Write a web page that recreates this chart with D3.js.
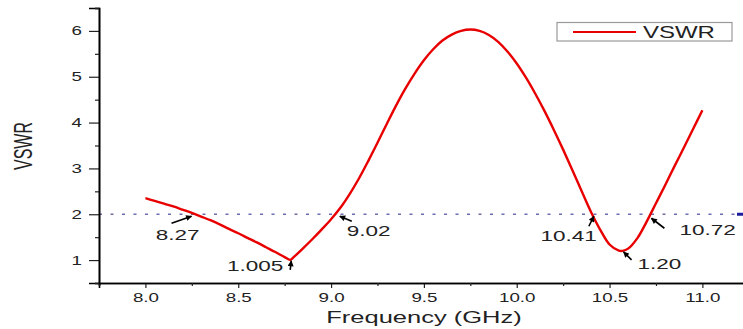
<!DOCTYPE html>
<html>
<head>
<meta charset="utf-8">
<script src="https://cdn.jsdelivr.net/npm/d3@7"></script>
<style>
  body { margin: 0; background: #fff; }
  svg { display: block; font-family: "Liberation Sans", Arial, sans-serif; }
</style>
</head>
<body>
<script>
// measured VSWR curve
var freq = [8.00,8.05,8.10,8.15,8.20,8.25,8.30,8.35,8.40,8.45,8.50,8.55,8.60,8.65,8.70,8.75,8.78,
  8.80,8.85,8.90,8.95,9.00,9.05,9.10,9.15,9.20,9.25,9.30,9.35,9.40,9.45,9.50,9.55,9.60,9.65,9.70,
  9.75,9.80,9.85,9.90,9.95,10.00,10.05,10.10,10.15,10.20,10.25,10.30,10.35,10.40,10.45,10.50,10.55,
  10.57,10.60,10.65,10.70,10.75,10.80,10.85,10.90,10.95,11.00];
var vswr = [2.35,2.29,2.23,2.17,2.10,2.03,1.95,1.87,1.78,1.68,1.585,1.485,1.385,1.28,1.175,1.065,1.005,
  1.07,1.26,1.46,1.67,1.89,2.14,2.44,2.78,3.16,3.56,3.97,4.37,4.74,5.07,5.36,5.60,5.79,5.92,6.00,
  6.03,6.00,5.91,5.76,5.55,5.29,4.98,4.63,4.25,3.84,3.41,2.96,2.50,2.05,1.66,1.34,1.205,
  1.20,1.25,1.48,1.84,2.24,2.64,3.05,3.45,3.86,4.27];

var xTicks = [8.0, 8.5, 9.0, 9.5, 10.0, 10.5, 11.0];
var xMinor = [7.75, 8.25, 8.75, 9.25, 9.75, 10.25, 10.75, 11.25];
var yTicks = [1, 2, 3, 4, 5, 6];
var yMinor = [0.5, 1.5, 2.5, 3.5, 4.5, 5.5, 6.5];
var refLevel = 2;

// annotated points
var markFreq = [8.27, 8.78, 9.02, 10.41, 10.57, 10.72];
var markVswr = [2, 1.005, 2, 2, 1.20, 2];
var markText = ["8.27", "1.005", "9.02", "10.41", "1.20", "10.72"];

var width = 743, height = 329;
var stretch = 1.5;

var svg = d3.select("body").append("svg")
  .attr("width", width)
  .attr("height", height);

var x = d3.scaleLinear().domain([7.75, 11.25]).range([99, 748.8]);
var y = d3.scaleLinear().domain([0.5, 6.5]).range([283, 8]);

// reference line at VSWR = 2
svg.append("line")
  .attr("x1", x(7.75)).attr("x2", width - 6)
  .attr("y1", y(refLevel)).attr("y2", y(refLevel))
  .attr("stroke", "#6c6cac")
  .attr("stroke-width", 1.6)
  .attr("stroke-dasharray", "3,8.5");
svg.append("line")
  .attr("x1", width - 6).attr("x2", width)
  .attr("y1", y(refLevel)).attr("y2", y(refLevel))
  .attr("stroke", "#1c1c9c")
  .attr("stroke-width", 3);

// axes
var gx = svg.append("g").attr("transform", "translate(0," + y(0.5) + ")");
gx.call(d3.axisBottom(x).tickValues(xTicks).tickSize(5).tickPadding(5).tickFormat(d3.format(".1f")));
svg.append("g").attr("transform", "translate(0," + y(0.5) + ")")
  .call(d3.axisBottom(x).tickValues(xMinor).tickSize(3).tickFormat(""));

var gy = svg.append("g").attr("transform", "translate(" + x(7.75) + ",0)");
gy.call(d3.axisLeft(y).tickValues(yTicks).tickSize(10).tickFormat(d3.format("d")));
svg.append("g").attr("transform", "translate(" + x(7.75) + ",0)")
  .call(d3.axisLeft(y).tickValues(yMinor).tickSize(4).tickFormat(""));

svg.selectAll(".domain").attr("stroke", "#000").attr("stroke-width", 1.6);
svg.selectAll(".tick line").attr("stroke", "#222").attr("stroke-width", 1.2);

gx.selectAll("text")
  .attr("font-size", 12.5)
  .attr("fill", "#222")
  .attr("font-family", "Liberation Sans, Arial, sans-serif")
  .attr("transform", "scale(" + stretch + ",1)");
gy.selectAll("text")
  .attr("font-size", 12.5)
  .attr("fill", "#222")
  .attr("font-family", "Liberation Sans, Arial, sans-serif")
  .attr("x", -17 / stretch)
  .attr("transform", "scale(" + stretch + ",1)");

// axis titles
svg.append("text")
  .attr("transform", "translate(" + 424 + ",323) scale(" + stretch + ",1)")
  .attr("text-anchor", "middle")
  .attr("font-size", 17)
  .attr("fill", "#222")
  .text("Frequency (GHz)");

svg.append("text")
  .attr("transform", "translate(32,146) rotate(-90) scale(1,1.6)")
  .attr("text-anchor", "middle")
  .attr("font-size", 16)
  .attr("fill", "#222")
  .text("VSWR");

// curve
var line = d3.line()
  .x(function(d, i){ return x(freq[i]); })
  .y(function(d){ return y(d); })
  .curve(d3.curveCatmullRom.alpha(0.5));

svg.append("path")
  .datum(vswr)
  .attr("d", line)
  .attr("fill", "none")
  .attr("stroke", "#e80000")
  .attr("stroke-width", 2.4)
  .attr("stroke-linejoin", "round");

// arrow annotations
svg.append("defs").append("marker")
  .attr("id", "head")
  .attr("viewBox", "0 0 10 10")
  .attr("refX", 9).attr("refY", 5)
  .attr("markerWidth", 7).attr("markerHeight", 6)
  .attr("markerUnits", "userSpaceOnUse")
  .attr("orient", "auto")
  .append("path")
  .attr("d", "M0,0L10,5L0,10z")
  .attr("fill", "#000");

// offsets: [tipDx, tipDy, tailDx, tailDy, textDx, textDy, anchor]
var layout = [
  [-4, 2, -24, 9, -18, 26, "middle"],
  [1, 1, 0, 10, -7, 11, "end"],
  [5, 2, 17, 7, 12, 22, "start"],
  [1, 2, -4, 12, 4, 27, "end"],
  [1, 1, 9, 9, 15, 18, "start"],
  [1, 4, 14, 14, 29, 21, "start"]
];

markFreq.forEach(function(f, i){
  var px = x(f), py = y(markVswr[i]), o = layout[i];
  svg.append("line")
    .attr("x1", px + o[2]).attr("y1", py + o[3])
    .attr("x2", px + o[0]).attr("y2", py + o[1])
    .attr("stroke", "#000")
    .attr("stroke-width", 1.6)
    .attr("marker-end", "url(#head)");
  svg.append("text")
    .attr("transform", "translate(" + (px + o[4]) + "," + (py + o[5]) + ") scale(" + stretch + ",1)")
    .attr("text-anchor", o[6])
    .attr("font-size", 15)
    .attr("fill", "#222")
    .text(markText[i]);
});

// legend
var lg = svg.append("g");
lg.append("rect")
  .attr("x", 557).attr("y", 22.5)
  .attr("width", 175).attr("height", 18.5)
  .attr("fill", "#fff")
  .attr("stroke", "#999")
  .attr("stroke-width", 1.2);
lg.append("line")
  .attr("x1", 573).attr("x2", 636)
  .attr("y1", 32).attr("y2", 32)
  .attr("stroke", "#e80000")
  .attr("stroke-width", 2);
lg.append("text")
  .attr("transform", "translate(643,38) scale(" + stretch + ",1)")
  .attr("font-size", 16)
  .attr("fill", "#222")
  .text("VSWR");
</script>
</body>
</html>
